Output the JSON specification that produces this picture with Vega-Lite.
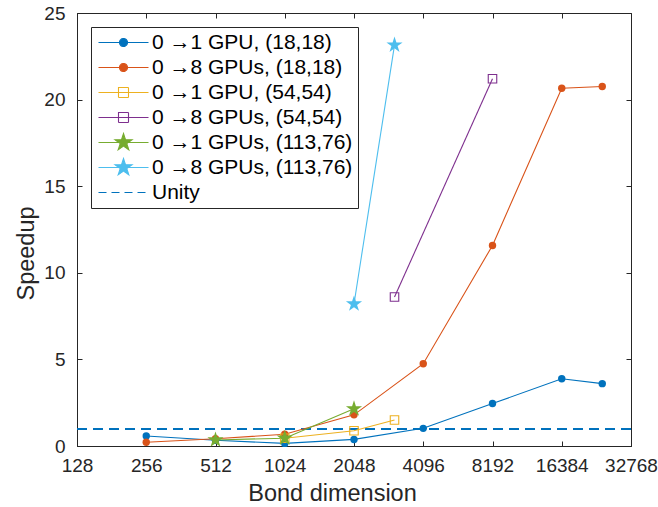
{
  "$schema": "https://vega.github.io/schema/vega-lite/v6.json",
  "width": 554,
  "height": 433,
  "autosize": "none",
  "padding": {"left": 77, "top": 13, "right": 27, "bottom": 61},
  "background": "white",
  "data": {"values": [
    {"series": "0 →1 GPU, (18,18)", "dim": 256, "speedup": 0.58},
    {"series": "0 →1 GPU, (18,18)", "dim": 512, "speedup": 0.33},
    {"series": "0 →1 GPU, (18,18)", "dim": 1024, "speedup": 0.15},
    {"series": "0 →1 GPU, (18,18)", "dim": 2048, "speedup": 0.38},
    {"series": "0 →1 GPU, (18,18)", "dim": 4096, "speedup": 1.02},
    {"series": "0 →1 GPU, (18,18)", "dim": 8192, "speedup": 2.45},
    {"series": "0 →1 GPU, (18,18)", "dim": 16384, "speedup": 3.88},
    {"series": "0 →1 GPU, (18,18)", "dim": 24576, "speedup": 3.6},
    {"series": "0 →8 GPUs, (18,18)", "dim": 256, "speedup": 0.22},
    {"series": "0 →8 GPUs, (18,18)", "dim": 512, "speedup": 0.42},
    {"series": "0 →8 GPUs, (18,18)", "dim": 1024, "speedup": 0.68},
    {"series": "0 →8 GPUs, (18,18)", "dim": 2048, "speedup": 1.8},
    {"series": "0 →8 GPUs, (18,18)", "dim": 4096, "speedup": 4.75},
    {"series": "0 →8 GPUs, (18,18)", "dim": 8192, "speedup": 11.58},
    {"series": "0 →8 GPUs, (18,18)", "dim": 16384, "speedup": 20.66},
    {"series": "0 →8 GPUs, (18,18)", "dim": 24576, "speedup": 20.76},
    {"series": "0 →1 GPU, (54,54)", "dim": 1024, "speedup": 0.45},
    {"series": "0 →1 GPU, (54,54)", "dim": 2048, "speedup": 0.88},
    {"series": "0 →1 GPU, (54,54)", "dim": 3072, "speedup": 1.5},
    {"series": "0 →8 GPUs, (54,54)", "dim": 3072, "speedup": 8.6},
    {"series": "0 →8 GPUs, (54,54)", "dim": 8192, "speedup": 21.2},
    {"series": "0 →1 GPUs, (113,76)", "dim": 512, "speedup": 0.35},
    {"series": "0 →1 GPUs, (113,76)", "dim": 1024, "speedup": 0.45},
    {"series": "0 →1 GPUs, (113,76)", "dim": 2048, "speedup": 2.15},
    {"series": "0 →8 GPUs, (113,76)", "dim": 2048, "speedup": 8.2},
    {"series": "0 →8 GPUs, (113,76)", "dim": 3072, "speedup": 23.15}
  ]},
  "layer": [
    {
      "mark": {"type": "rule", "strokeDash": [10, 6], "strokeWidth": 1.2},
      "encoding": {
        "y": {"datum": 1, "type": "quantitative", "axis": null},
        "color": {"datum": "Unity", "type": "nominal"}
      }
    },
    {
      "mark": {"type": "line", "strokeWidth": 1.1},
      "encoding": {
        "x": {"field": "dim", "type": "quantitative",
              "scale": {"type": "log", "base": 2, "domain": [128, 32768], "nice": false},
              "axis": {"values": [128, 256, 512, 1024, 2048, 4096, 8192, 16384, 32768], "format": "d", "title": "Bond dimension", "labelPadding": 15, "labelDx": -5, "titlePadding": 6, "titleX": 255}},
        "y": {"field": "speedup", "type": "quantitative",
              "scale": {"domain": [0, 25], "nice": false},
              "axis": {"values": [0, 5, 10, 15, 20, 25], "title": "Speedup", "labelPadding": 17, "titlePadding": 5, "titleY": 240}},
        "color": {"field": "series", "type": "nominal",
          "scale": {
            "domain": ["0 →1 GPU, (18,18)", "0 →8 GPUs, (18,18)", "0 →1 GPU, (54,54)", "0 →8 GPUs, (54,54)", "0 →1 GPUs, (113,76)", "0 →8 GPUs, (113,76)", "Unity"],
            "range": ["#0072BD", "#D95319", "#EDB120", "#7E2F8E", "#77AC30", "#4DBEEE", "#0072BD"]
          },
          "legend": {
            "title": null,
            "orient": "top-left",
            "offset": 14,
            "symbolSize": 100,
            "labelOffset": 35,
            "rowPadding": 3,
            "padding": 5,
            "strokeColor": "#262626",
            "fillColor": "white",
            "labelFontSize": 21,
            "labelColor": "black",
            "labelLimit": 0,
            "encode": {
              "symbols": {
                "update": {
                  "shape": {"signal": "datum.value === 'Unity' ? 'M-1.6,0L8.4,0' : (indexof(['0 →1 GPU, (54,54)', '0 →8 GPUs, (54,54)'], datum.value) >= 0 ? 'M-1.6,0L8.4,0M2.4,-1L4.4,-1L4.4,1L2.4,1Z' : (indexof(['0 →1 GPUs, (113,76)', '0 →8 GPUs, (113,76)'], datum.value) >= 0 ? 'M-1.6,0L8.4,0M3.4,-1.8L3.804,-0.557L5.112,-0.556L4.054,0.213L4.458,1.456L3.4,0.688L2.342,1.456L2.746,0.213L1.688,-0.556L2.996,-0.557Z' : 'M-1.6,0L8.4,0M2.6,0A0.8,0.8,0,1,0,4.2,0A0.8,0.8,0,1,0,2.6,0Z'))"},
                  "fill": {"signal": "scale('color', datum.value)"},
                  "fillOpacity": {"signal": "indexof(['0 →1 GPU, (54,54)', '0 →8 GPUs, (54,54)', 'Unity'], datum.value) >= 0 ? 0 : 1"},
                  "stroke": {"signal": "scale('color', datum.value)"},
                  "strokeDash": {"signal": "datum.value === 'Unity' ? [8, 5] : [1, 0]"},
                  "strokeWidth": {"value": 1.1},
                  "opacity": {"value": 1}
                }
              }
            }
          }
        }
      }
    },
    {
      "transform": [{"filter": {"field": "series", "oneOf": ["0 →1 GPU, (18,18)", "0 →8 GPUs, (18,18)"]}}],
      "mark": {"type": "point", "filled": true, "shape": "circle", "size": 55, "opacity": 1},
      "encoding": {
        "x": {"field": "dim", "type": "quantitative", "axis": {"orient": "top", "labels": false, "title": null, "domain": false, "values": [128, 256, 512, 1024, 2048, 4096, 8192, 16384, 32768]}},
        "y": {"field": "speedup", "type": "quantitative", "axis": {"orient": "right", "labels": false, "title": null, "domain": false, "values": [0, 5, 10, 15, 20, 25]}},
        "color": {"field": "series", "type": "nominal"}
      }
    },
    {
      "transform": [{"filter": {"field": "series", "oneOf": ["0 →1 GPU, (54,54)", "0 →8 GPUs, (54,54)"]}}],
      "mark": {"type": "point", "filled": false, "shape": "square", "size": 72, "opacity": 1, "strokeWidth": 1.1},
      "encoding": {
        "x": {"field": "dim", "type": "quantitative", "axis": null},
        "y": {"field": "speedup", "type": "quantitative", "axis": null},
        "color": {"field": "series", "type": "nominal"}
      }
    },
    {
      "transform": [{"filter": {"field": "series", "oneOf": ["0 →1 GPUs, (113,76)", "0 →8 GPUs, (113,76)"]}}],
      "mark": {"type": "point", "filled": true, "shape": "M0,-1L0.2245,-0.309L0.9511,-0.309L0.3633,0.118L0.5878,0.809L0,0.382L-0.5878,0.809L-0.3633,0.118L-0.9511,-0.309L-0.2245,-0.309Z", "size": 289, "opacity": 1},
      "encoding": {
        "x": {"field": "dim", "type": "quantitative", "axis": null},
        "y": {"field": "speedup", "type": "quantitative", "axis": null},
        "color": {"field": "series", "type": "nominal"}
      }
    }
  ],
  "resolve": {"axis": {"x": "independent", "y": "independent"}},
  "config": {
    "font": "Liberation Sans",
    "view": {"stroke": "#262626", "strokeWidth": 1},
    "axis": {
      "labelFontSize": 19,
      "titleFontSize": 23.5,
      "titleFontWeight": "normal",
      "labelColor": "#262626",
      "titleColor": "#262626",
      "domainColor": "#262626",
      "tickColor": "#262626",
      "grid": false,
      "labelFlush": false,
      "labelOverlap": false,
      "tickSize": -5
    }
  }
}
